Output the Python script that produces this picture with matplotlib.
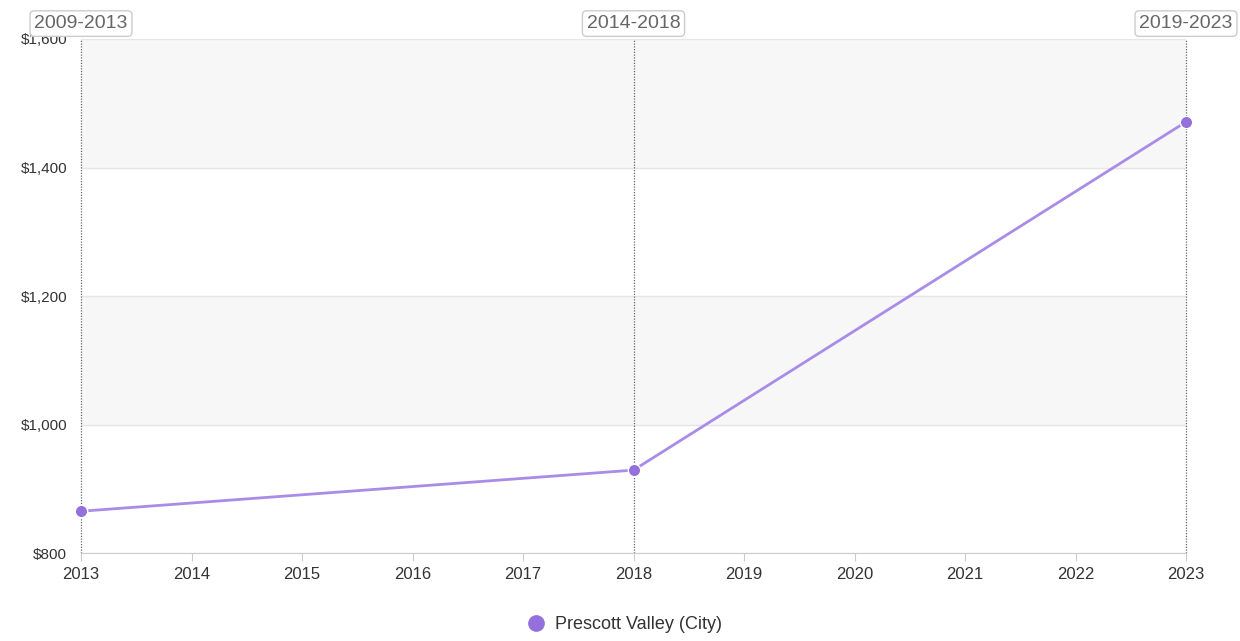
import matplotlib.pyplot as plt
from matplotlib.lines import Line2D

plt.rcParams["font.family"] = ["Liberation Sans", "DejaVu Sans"]

# =========================================================
# DATA
# =========================================================

years = [2013, 2018, 2023]
rent = [865, 929, 1471]
periods = ["2009-2013", "2014-2018", "2019-2023"]
series_name = "Prescott Valley (City)"

x_ticks = list(range(2013, 2024))
y_ticks = [800, 1000, 1200, 1400, 1600]

# =========================================================
# FIGURE
# =========================================================

fig = plt.figure(figsize=(12.4, 6.41), dpi=100)
ax = fig.add_axes([81 / 1240, 88 / 641, 1105 / 1240, 514 / 641])

ax.set_xlim(2013, 2023)
ax.set_ylim(800, 1600)

# alternating bands
for i in range(len(y_ticks) - 1):
    if i % 2 == 1:
        ax.axhspan(y_ticks[i], y_ticks[i + 1], color="#f7f7f7", zorder=0)

for y in y_ticks:
    ax.axhline(y, color="#e6e6e6", linewidth=1, zorder=1)

# period lines
for yr, label in zip(years, periods):
    ax.axvline(yr, color="#666666", linestyle=(0, (1, 1.2)), linewidth=0.9,
               zorder=2, clip_on=False)
    ax.text(yr, 1.03, label, transform=ax.get_xaxis_transform(),
            ha="center", va="center", fontsize=14, color="#666666",
            bbox=dict(boxstyle="round,pad=0.22", fc="white", ec="#cccccc", lw=1),
            zorder=5, clip_on=False)

ax.plot(years, rent, color="#a98ce8", linewidth=2, zorder=3, clip_on=False)
ax.scatter(years, rent, s=80, color="#9370db", edgecolors="white",
           linewidths=1, zorder=4, clip_on=False)

ax.set_xticks(x_ticks)
ax.set_xticklabels([str(x) for x in x_ticks], fontsize=12, color="#333333")
ax.set_yticks(y_ticks)
ax.set_yticklabels(["${:,}".format(y) for y in y_ticks], fontsize=11, color="#333333")
ax.tick_params(axis="x", length=6, color="#cccccc", pad=4)
ax.tick_params(axis="y", length=0, pad=10)

for side in ["top", "right", "left"]:
    ax.spines[side].set_visible(False)
ax.spines["bottom"].set_color("#cccccc")

handle = Line2D([], [], marker="o", linestyle="", markersize=11,
                markerfacecolor="#9370db", markeredgecolor="#9370db")
fig.legend([handle], [series_name], loc="center", bbox_to_anchor=(0.5, 0.025),
           frameon=False, fontsize=13, handletextpad=0.1,
           labelcolor="#333333")

fig.savefig("out.png", dpi=100)
